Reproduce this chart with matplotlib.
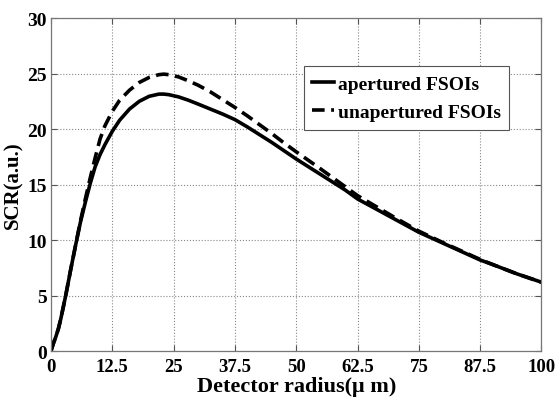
import matplotlib
matplotlib.use("Agg")
import matplotlib.pyplot as plt

# detector radius (um)
radius = [0, 0.5, 1, 1.5, 2, 3, 4, 5, 6, 7, 8, 9, 10, 11, 12.5, 14, 16, 18, 20,
          22, 23, 24, 26, 28, 30, 32.5, 35, 37.5, 40, 42.5, 45, 47.5, 50, 55,
          60, 62.5, 65, 70, 75, 80, 85, 87.5, 90, 95, 100]

scr_apertured = [0, 0.7, 1.3, 2.0, 2.9, 5.0, 7.3, 9.5, 11.6, 13.4, 15.1, 16.6,
                 17.7, 18.6, 19.8, 20.8, 21.8, 22.5, 22.95, 23.15, 23.15, 23.1,
                 22.9, 22.6, 22.25, 21.8, 21.35, 20.85, 20.2, 19.5, 18.8, 18.05,
                 17.3, 15.9, 14.5, 13.7, 13.1, 11.9, 10.7, 9.7, 8.7, 8.2, 7.8,
                 6.95, 6.2]

scr_unapertured = [0, 0.7, 1.3, 2.0, 2.9, 5.0, 7.3, 9.5, 11.7, 13.7, 15.6, 17.4,
                   19.1, 20.3, 21.6, 22.6, 23.5, 24.2, 24.65, 24.9, 24.95, 24.9,
                   24.7, 24.35, 23.95, 23.35, 22.65, 21.95, 21.2, 20.4, 19.6,
                   18.75, 17.95, 16.4, 14.8, 14.0, 13.35, 12.05, 10.8, 9.75,
                   8.75, 8.25, 7.8, 6.95, 6.2]

xticks = [0, 12.5, 25, 37.5, 50, 62.5, 75, 87.5, 100]
xtick_labels = ["0", "12.5", "25", "37.5", "50", "62.5", "75", "87.5", "100"]
yticks = [0, 5, 10, 15, 20, 25, 30]

plt.rcParams['font.family'] = ['Liberation Serif', 'DejaVu Serif']
plt.rcParams['font.weight'] = 'bold'

fig = plt.figure(figsize=(5.58, 4.06), dpi=100)
ax = fig.add_axes([0.0914, 0.133, 0.879, 0.82])

ax.plot(radius, scr_apertured, color='black', lw=2.6, label='apertured FSOIs')
ax.plot(radius, scr_unapertured, color='black', lw=2.6, ls=(0, (3.5, 1.8)),
        label='unapertured FSOIs')

ax.set_xlim(0, 100)
ax.set_ylim(0, 30)
ax.set_xticks(xticks)
ax.set_xticklabels(xtick_labels)
ax.set_yticks(yticks)
ax.tick_params(direction='in', top=True, right=True, length=4, width=0.8,
               color='#555555')
ax.tick_params(axis='x', pad=5, labelsize=13.5)
ax.tick_params(axis='y', pad=3, labelsize=14)
for lab in ax.get_xticklabels() + ax.get_yticklabels():
    lab.set_fontweight('bold')
for sp in ax.spines.values():
    sp.set_color('#777777')
    sp.set_linewidth(0.9)

ax.grid(True, ls=':', color='#888888', lw=0.8)
ax.set_axisbelow(True)

ax.set_xlabel('Detector radius(\u03bc m)', fontsize=16, fontweight='bold', labelpad=1)
ax.set_ylabel('SCR(a.u.)', fontsize=15, fontweight='bold', labelpad=3)

leg = ax.legend(loc='upper left', bbox_to_anchor=(0.515, 0.855), fontsize=14,
                handlelength=1.1, handletextpad=0.2, borderpad=0.45,
                labelspacing=0.55, fancybox=False, framealpha=1,
                edgecolor='#555555', borderaxespad=0)
leg.get_frame().set_linewidth(0.8)
for t in leg.get_texts():
    t.set_fontweight('bold')

fig.savefig('out.png', dpi=100)
